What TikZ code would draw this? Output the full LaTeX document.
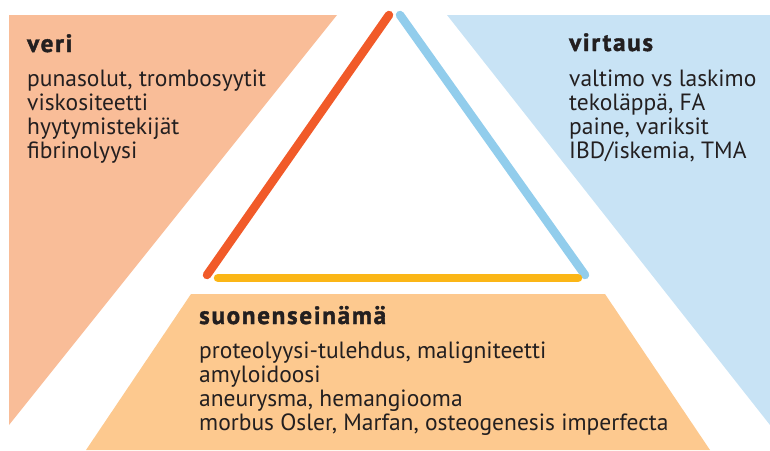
\documentclass[tikz,border=0pt]{standalone}
\usepackage{fontspec}
\setmainfont{PT Sans}
\newfontfamily\headfont[LetterSpace=7,FakeBold=1.6]{PT Sans Bold}

\definecolor{verifill}{HTML}{F9BD98}
\definecolor{virtausfill}{HTML}{C8E3F5}
\definecolor{seinafill}{HTML}{FDC98F}
\definecolor{veriline}{HTML}{F15A29}
\definecolor{virtausline}{HTML}{92CDEC}
\definecolor{seinaline}{HTML}{FBB616}
\definecolor{ink}{HTML}{231F20}

\tikzset{
  title/.style={anchor=base west, inner sep=0pt, text=ink, font=\fontsize{25}{25}\headfont},
  body/.style={anchor=north west, inner sep=0pt, align=left, text=ink, font=\fontsize{23.5}{24}\selectfont},
  side/.style={line width=8.5pt, line cap=round}
}

\begin{document}
\begin{tikzpicture}[x=1pt, y=-1pt]
  \useasboundingbox (0,0) rectangle (770,450);
  % taustat
  \fill[verifill] (9,15) -- (337,15) -- (9,425) -- cycle;
  \fill[virtausfill] (447,15) -- (770,15) -- (770,425) -- cycle;
  \fill[seinafill] (191,294) -- (605,294) -- (710,450) -- (86,450) -- cycle;
  % kolmio
  \coordinate (V1) at (207,275);
  \coordinate (V2) at (389,15);
  \coordinate (F1) at (400,15);
  \coordinate (F2) at (585,275);
  \coordinate (S1) at (218,278);
  \coordinate (S2) at (578,278);
  \draw[side, veriline] (V1) -- (V2);
  \draw[side, virtausline] (F1) -- (F2);
  \draw[side, seinaline] (S1) -- (S2);
  % tekstit
  \node[title] (veri) at (27,52) {veri};
  \node[body] (veritxt) at (27,70) {punasolut, trombosyytit\\viskositeetti\\hyytymistekijät\\fibrinolyysi};
  \node[title] (virtaus) at (569,51) {virtaus};
  \node[body] (virtaustxt) at (569,70) {valtimo vs laskimo\\tekoläppä, FA\\paine, variksit\\IBD/iskemia, TMA};
  \node[title] (seina) at (199,324) {suonenseinämä};
  \node[body] (seinatxt) at (199,342) {proteolyysi-tulehdus, maligniteetti\\amyloidoosi\\aneurysma, hemangiooma\\morbus Osler, Marfan, osteogenesis imperfecta};
\end{tikzpicture}
\end{document}
